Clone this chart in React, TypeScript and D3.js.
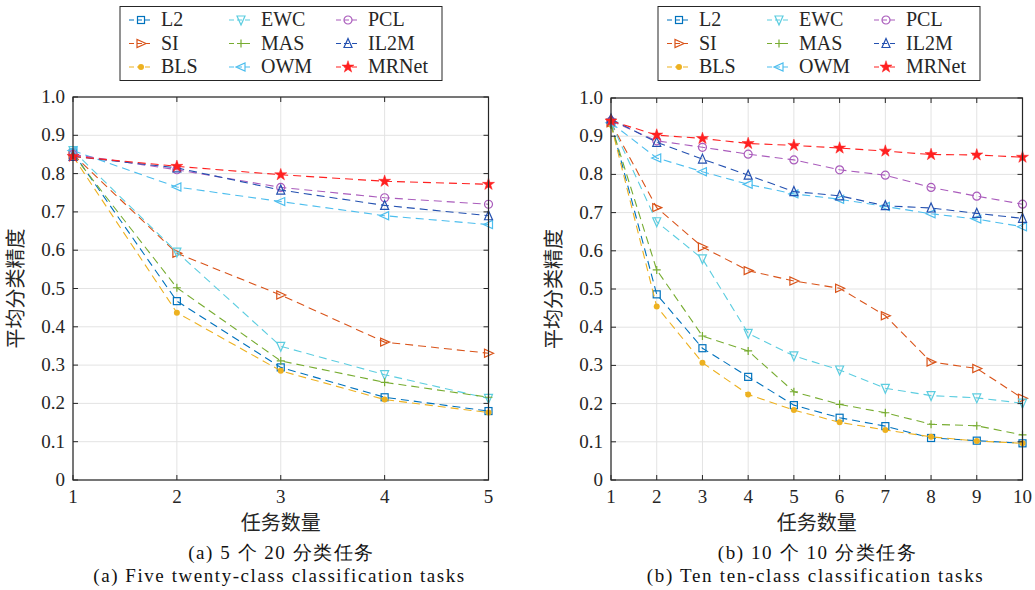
import React from 'react';
import * as d3 from 'd3';

// task counts on the x axis
const tasksA = [1, 2, 3, 4, 5];
const tasksB = [1, 2, 3, 4, 5, 6, 7, 8, 9, 10];

const methods = ['L2', 'SI', 'BLS', 'EWC', 'MAS', 'OWM', 'PCL', 'IL2M', 'MRNet'];

// (a) five twenty-class tasks
const l2A = [0.855, 0.467, 0.294, 0.216, 0.18];
const siA = [0.85, 0.592, 0.483, 0.36, 0.331];
const blsA = [0.845, 0.437, 0.285, 0.21, 0.176];
const ewcA = [0.86, 0.595, 0.349, 0.275, 0.213];
const masA = [0.85, 0.502, 0.311, 0.255, 0.216];
const owmA = [0.86, 0.765, 0.727, 0.69, 0.667];
const pclA = [0.85, 0.81, 0.764, 0.737, 0.72];
const il2mA = [0.845, 0.815, 0.757, 0.717, 0.69];
const mrnetA = [0.845, 0.819, 0.797, 0.78, 0.772];

// (b) ten ten-class tasks
const l2B = [0.935, 0.486, 0.345, 0.27, 0.196, 0.163, 0.141, 0.11, 0.103, 0.096];
const siB = [0.935, 0.713, 0.61, 0.548, 0.521, 0.502, 0.43, 0.309, 0.292, 0.214];
const blsB = [0.93, 0.454, 0.307, 0.224, 0.183, 0.151, 0.131, 0.113, 0.102, 0.096];
const ewcB = [0.935, 0.676, 0.579, 0.384, 0.325, 0.288, 0.24, 0.221, 0.215, 0.201];
const masB = [0.93, 0.55, 0.377, 0.338, 0.231, 0.198, 0.176, 0.146, 0.142, 0.118];
const owmB = [0.935, 0.843, 0.807, 0.774, 0.749, 0.735, 0.716, 0.697, 0.683, 0.663];
const pclB = [0.94, 0.888, 0.871, 0.853, 0.838, 0.812, 0.798, 0.766, 0.743, 0.722];
const il2mB = [0.945, 0.884, 0.84, 0.798, 0.755, 0.744, 0.718, 0.712, 0.698, 0.685];
const mrnetB = [0.94, 0.903, 0.894, 0.881, 0.876, 0.869, 0.861, 0.852, 0.851, 0.845];

const yTicks = [0, 0.1, 0.2, 0.3, 0.4, 0.5, 0.6, 0.7, 0.8, 0.9, 1.0];

const colors: Record<string, string> = {
  L2: '#0072BD',
  SI: '#D95319',
  BLS: '#EDB120',
  EWC: '#5CCDE0',
  MAS: '#77AC30',
  OWM: '#4DBEEE',
  PCL: '#AA5CBC',
  IL2M: '#2350B0',
  MRNet: '#FF2020',
};

const serif = '"Liberation Serif", "DejaVu Serif", serif';
const cjk = '"Noto Sans CJK SC", sans-serif';

const Marker = ({ name, x, y }: { name: string; x: number; y: number }) => {
  const c = colors[name];
  const s = 4;
  const t = `translate(${x},${y})`;
  switch (name) {
    case 'L2':
      return <rect transform={t} x={-3.5} y={-3.5} width={7} height={7} fill="none" stroke={c} strokeWidth={1.2} />;
    case 'SI':
      return <path transform={t} d={`M${s + 1},0L${-s},${-s}L${-s},${s}Z`} fill="none" stroke={c} strokeWidth={1.2} />;
    case 'OWM':
      return <path transform={t} d={`M${-s - 1},0L${s},${-s}L${s},${s}Z`} fill="none" stroke={c} strokeWidth={1.2} />;
    case 'EWC':
      return <path transform={t} d={`M0,${s + 1}L${-s},${-s}L${s},${-s}Z`} fill="none" stroke={c} strokeWidth={1.2} />;
    case 'IL2M':
      return <path transform={t} d={`M0,${-s - 1}L${-s},${s}L${s},${s}Z`} fill="none" stroke={c} strokeWidth={1.2} />;
    case 'MAS':
      return <path transform={t} d={`M${-s},0H${s}M0,${-s}V${s}`} fill="none" stroke={c} strokeWidth={1.2} />;
    case 'PCL':
      return <circle transform={t} r={4} fill="none" stroke={c} strokeWidth={1.2} />;
    case 'BLS':
      return <circle transform={t} r={3} fill={c} />;
    default:
      return <path transform={t} d={d3.symbol(d3.symbolStar, 45)() || ''} fill={c} stroke={c} strokeWidth={0.5} />;
  }
};

type PanelProps = {
  tasks: number[];
  series: number[][];
  left: number;
  right: number;
  top: number;
  bottom: number;
  caption1: string;
  caption2: string;
  len1: number;
  len2: number;
};

const Panel = ({ tasks, series, left, right, top, bottom, caption1, caption2, len1, len2 }: PanelProps) => {
  const x = d3.scaleLinear().domain([tasks[0], tasks[tasks.length - 1]]).range([left, right]);
  const y = d3.scaleLinear().domain([0, 1]).range([bottom, top]);
  const line = d3
    .line<number>()
    .x((_, i) => x(tasks[i]))
    .y((d) => y(d));
  const cx = (left + right) / 2;
  const tick = 5;

  const lx = left + 48;
  const legendCols = [lx, lx + 100, lx + 207];

  return (
    <g>
      {/* grid */}
      {yTicks.map((t) => (
        <line key={'gy' + t} x1={left} x2={right} y1={y(t)} y2={y(t)} stroke="#e3e3e3" strokeWidth={1} />
      ))}
      {tasks.map((t) => (
        <line key={'gx' + t} x1={x(t)} x2={x(t)} y1={top} y2={bottom} stroke="#e3e3e3" strokeWidth={1} />
      ))}

      {/* series */}
      {series.map((vals, k) => (
        <g key={methods[k]}>
          <path d={line(vals) || ''} fill="none" stroke={colors[methods[k]]} strokeWidth={1.1} strokeDasharray="8,5" />
          {vals.map((v, i) => (
            <Marker key={i} name={methods[k]} x={x(tasks[i])} y={y(v)} />
          ))}
        </g>
      ))}

      {/* axes box with inward ticks */}
      <rect x={left} y={top} width={right - left} height={bottom - top} fill="none" stroke="#262626" strokeWidth={1.2} />
      {yTicks.map((t) => (
        <g key={'ty' + t}>
          <line x1={left} x2={left + tick} y1={y(t)} y2={y(t)} stroke="#262626" />
          <line x1={right} x2={right - tick} y1={y(t)} y2={y(t)} stroke="#262626" />
          <text x={left - 8} y={y(t) + 6} textAnchor="end" fontFamily={serif} fontSize={19} fill="#262626">
            {t === 0 ? '0' : t.toFixed(1)}
          </text>
        </g>
      ))}
      {tasks.map((t) => (
        <g key={'tx' + t}>
          <line x1={x(t)} x2={x(t)} y1={bottom} y2={bottom - tick} stroke="#262626" />
          <line x1={x(t)} x2={x(t)} y1={top} y2={top + tick} stroke="#262626" />
          <text x={x(t)} y={503} textAnchor="middle" fontFamily={serif} fontSize={19} fill="#262626">
            {t}
          </text>
        </g>
      ))}

      {/* axis titles */}
      <text
        transform={`translate(${left - 50},${(top + bottom) / 2}) rotate(-90)`}
        textAnchor="middle"
        fontFamily={cjk}
        fontSize={20}
        fill="#262626"
      >
        平均分类精度
      </text>
      <text x={cx} y={530} textAnchor="middle" fontFamily={cjk} fontSize={20} fill="#262626">
        任务数量
      </text>
      <text x={cx} y={559} textAnchor="middle" fontFamily={serif} fontSize={19} fill="#111" textLength={len1} lengthAdjust="spacing">
        {caption1}
      </text>
      <text x={cx - 2} y={582} textAnchor="middle" fontFamily={serif} fontSize={19} fill="#111" textLength={len2} lengthAdjust="spacing">
        {caption2}
      </text>

      {/* legend */}
      <rect x={left + 47} y={6.5} width={322} height={74} fill="#fff" stroke="#262626" strokeWidth={1} />
      {methods.map((m, k) => {
        const col = Math.floor(k / 3);
        const row = k % 3;
        const bx = legendCols[col] + 8;
        const by = 20 + row * 23.5;
        return (
          <g key={'lg' + m}>
            <line x1={bx} x2={bx + 24} y1={by} y2={by} stroke={colors[m]} strokeWidth={1.1} strokeDasharray="5,3" />
            <Marker name={m} x={bx + 12} y={by} />
            <text x={bx + 32} y={by + 6} fontFamily={serif} fontSize={20} fill="#262626">
              {m}
            </text>
          </g>
        );
      })}
    </g>
  );
};

export default function App() {
  const seriesA = [l2A, siA, blsA, ewcA, masA, owmA, pclA, il2mA, mrnetA];
  const seriesB = [l2B, siB, blsB, ewcB, masB, owmB, pclB, il2mB, mrnetB];
  return (
    <svg width={1035} height={590} style={{ position: 'absolute', left: 0, top: 0, background: '#fff' }}>
      <Panel
        tasks={tasksA}
        series={seriesA}
        left={73}
        right={488.5}
        top={97}
        bottom={480}
        caption1="(a) 5 个 20 分类任务"
        caption2="(a) Five twenty-class classification tasks"
        len1={185}
        len2={371}
      />
      <Panel
        tasks={tasksB}
        series={seriesB}
        left={611}
        right={1022.5}
        top={98}
        bottom={480}
        caption1="(b) 10 个 10 分类任务"
        caption2="(b) Ten ten-class classification tasks"
        len1={198}
        len2={336}
      />
    </svg>
  );
}
